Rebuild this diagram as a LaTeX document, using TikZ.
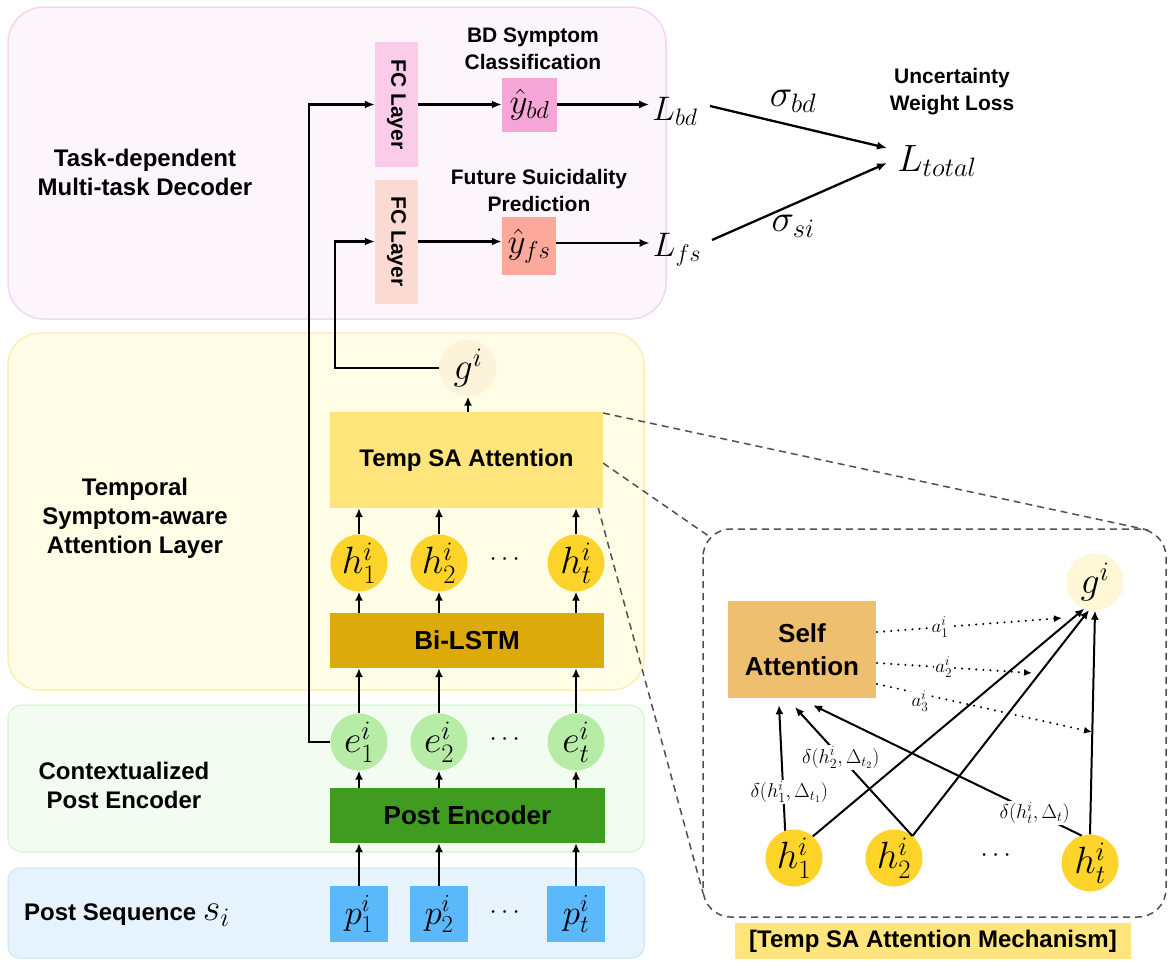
\RequirePackage{fix-cm}
\documentclass[tikz,border=0pt]{standalone}
\usepackage{amsmath}
\usepackage[no-math]{fontspec}
\setmainfont{Liberation Sans}
\usetikzlibrary{arrows.meta}
\definecolor{pinkF}{HTML}{FDF5FC}\definecolor{pinkB}{HTML}{F6D5F1}
\definecolor{yelF}{HTML}{FFFDE6}\definecolor{yelB}{HTML}{FBEFB3}
\definecolor{grnF}{HTML}{F3FCF1}\definecolor{grnB}{HTML}{DDF5D9}
\definecolor{bluF}{HTML}{E6F3FD}\definecolor{bluB}{HTML}{D6E9F9}
\definecolor{fcA}{HTML}{FBCCEA}\definecolor{fcB}{HTML}{FCDAD4}
\definecolor{ybdC}{HTML}{F6A6D6}\definecolor{yfsC}{HTML}{FCA99C}
\definecolor{gC}{HTML}{FDF3D9}\definecolor{gCR}{HTML}{FFF7D6}
\definecolor{tsaC}{HTML}{FFE57C}\definecolor{hC}{HTML}{FFD42A}
\definecolor{lstmC}{HTML}{DCAA0B}\definecolor{eC}{HTML}{B6ECA6}
\definecolor{pencC}{HTML}{3F9C20}\definecolor{pC}{HTML}{5BB9FB}
\definecolor{saC}{HTML}{EEBF6E}\definecolor{dgray}{HTML}{505050}
\begin{document}
\begin{tikzpicture}[x=1pt,y=-1pt,
  lbl/.style={font=\fontsize{24}{29}\selectfont\bfseries, align=center, inner sep=0},
  lbls/.style={font=\fontsize{21}{27}\selectfont\bfseries, align=center, inner sep=0},
  blk/.style={draw=none, inner sep=0, anchor=center},
  circ/.style={circle, draw=none, inner sep=0, minimum size=57, font=\fontsize{38}{38}\selectfont},
  sqr/.style={draw=none, inner sep=0, font=\fontsize{35}{35}\selectfont},
  mth/.style={inner sep=3, font=\fontsize{34}{34}\selectfont},
  arr/.style={line width=2, -{Latex[length=9,width=8]}},
  darr/.style={line width=2.3, -{Latex[length=10,width=8]}},
  dashst/.style={draw=dgray, line width=1.5, dash pattern=on 7 off 5},
  dotarr/.style={line width=2.2, dash pattern=on 0.1 off 7, line cap=round, -{Latex[length=8,width=7]}},
  dlab/.style={fill=white, inner sep=1.5, font=\fontsize{20}{20}\selectfont},
  alab/.style={fill=white, inner sep=1, font=\fontsize{19}{19}\selectfont}
]
\path[fill=white, use as bounding box] (0,0) rectangle (1174,972);

% panels
\draw[draw=pinkB, fill=pinkF, line width=1.5, rounded corners=36] (8,7) rectangle (666,319);
\draw[draw=yelB, fill=yelF, line width=1.5, rounded corners=32] (8,333) rectangle (644,690);
\draw[draw=grnB, fill=grnF, line width=1.5, rounded corners=14] (8,705) rectangle (644,852);
\draw[draw=bluB, fill=bluF, line width=1.5, rounded corners=12] (8,868) rectangle (644,958);

% panel labels
\node[lbl] (lab1) at (145,172) {Task-dependent\\Multi-task Decoder};
\node[lbl] (lab2) at (135,518) {Temporal\\Symptom-aware\\Attention Layer};
\node[lbl] (lab3) at (124,785) {Contextualized\\Post Encoder};
\node[lbl, anchor=west] (lab4) at (24,915) {Post Sequence \fontsize{38}{38}\selectfont$s_i$};

% zoom panel and dashed connectors
\coordinate (zA) at (1148,530);
\coordinate (zB) at (710,537);
\coordinate (zC) at (703,893);
\draw[dashst] (603,413) -- (zA);
\draw[dashst] (603,463) -- (zB);
\draw[dashst] (598,507) -- (zC);
\draw[dashst, rounded corners=28] (703,529) rectangle (1166,917);

% lower stack
\foreach \n/\x in {1/359,2/439,t/576}{
  \node[sqr, fill=pC, minimum width=58, minimum height=56] (p\n) at (\x,914) {$p^i_\n$};
  \node[circ, fill=eC] (e\n) at (\x,742) {$e^i_\n$};
  \node[circ, fill=hC] (h\n) at (\x,563) {$h^i_\n$};
}
\node[font=\fontsize{26}{26}\selectfont] (pd) at (507,913) {$\cdots$};
\node[font=\fontsize{26}{26}\selectfont] (ed) at (507,740) {$\cdots$};
\node[font=\fontsize{26}{26}\selectfont] (hd) at (507,560) {$\cdots$};

\node[blk, fill=pencC, minimum width=275, minimum height=55, font=\fontsize{26}{26}\selectfont\bfseries] (penc) at (467.5,815.5) {Post Encoder};
\node[blk, fill=lstmC, minimum width=274, minimum height=55, font=\fontsize{26}{26}\selectfont\bfseries] (lstm) at (467,640.5) {Bi-LSTM};
\node[blk, fill=tsaC, minimum width=273, minimum height=96, font=\fontsize{24}{24}\selectfont\bfseries] (tsa) at (466.5,460) {Temp SA Attention};
\node[circ, fill=gC] (gL) at (468,368) {$g^i$};

\foreach \n in {1,2,t}{
  \draw[arr] (p\n) -- (p\n |- penc.south);
  \draw[arr] (p\n |- penc.north) -- (e\n);
  \draw[arr] (e\n) -- (e\n |- lstm.south);
  \draw[arr] (h\n |- lstm.north) -- (h\n);
  \draw[arr] (h\n) -- (h\n |- tsa.south);
}
\draw[arr] (gL |- tsa.north) -- (gL);

% decoder
\node[blk, fill=fcA, minimum width=125, minimum height=43, rotate=-90, font=\fontsize{21}{21}\selectfont\bfseries] (fc1) at (396.5,104.5) {FC Layer};
\node[blk, fill=fcB, minimum width=124, minimum height=43, rotate=-90, font=\fontsize{21}{21}\selectfont\bfseries] (fc2) at (396.5,241.5) {FC Layer};
\node[sqr, fill=ybdC, minimum width=55, minimum height=54] (ybd) at (529.5,104.5) {$\hat{y}_{bd}$};
\node[sqr, fill=yfsC, minimum width=54, minimum height=58] (yfs) at (529,246) {$\hat{y}_{fs}$};
\node[lbls] (t1) at (533,49) {BD Symptom\\Classification};
\node[lbls] (t2) at (539,190) {Future Suicidality\\Prediction};
\node[lbls] (t3) at (952,92) {Uncertainty\\Weight Loss};
\node[mth] (Lbd) at (675,111) {$L_{bd}$};
\node[mth] (Lfs) at (677,250) {$L_{fs}$};
\node[mth, font=\fontsize{38}{38}\selectfont] (Ltot) at (937,161) {$L_{total}$};
\node[mth, font=\fontsize{38}{38}\selectfont] (sbd) at (793,101) {$\sigma_{bd}$};
\node[mth, font=\fontsize{38}{38}\selectfont] (ssi) at (793,226) {$\sigma_{si}$};

\coordinate (c1) at (309,104.5);
\coordinate (c2) at (335,241.5);
\draw[darr] (e1.west) -| (c1) -- (fc1);
\draw[darr] (gL.west) -| (c2) -- (fc2);
\draw[darr] (fc1) -- (fc1 -| ybd.west);
\draw[darr] (fc2) -- (fc2 -| yfs.west);
\draw[darr] (ybd) -- (ybd -| Lbd.west);
\draw[darr] (yfs.east |- 0,243) -- (Lfs.west |- 0,243);
\coordinate (l1) at (710,106);
\coordinate (l2) at (712,240);
\coordinate (m1) at (887,148);
\coordinate (m2) at (887,163);
\draw[darr] (l1) -- (m1);
\draw[darr] (l2) -- (m2);

% zoomed mechanism
\node[blk, fill=saC, minimum width=148, minimum height=97, align=center, font=\fontsize{26}{33}\selectfont\bfseries] (sa) at (802,649.5) {Self\\Attention};
\node[circ, fill=gCR] (gR) at (1095,582) {$g^i$};
\node[circ, fill=hC] (r1) at (794,858) {$h^i_1$};
\node[circ, fill=hC] (r2) at (894,858) {$h^i_2$};
\node[circ, fill=hC] (rt) at (1090,863) {$h^i_t$};
\node[font=\fontsize{26}{26}\selectfont] (rd) at (998,856) {$\cdots$};

\draw[arr] (r1.108) -- ([shift={(-23,7)}]sa.south) node[dlab, pos=0.31, xshift=6] (d1) {$\delta(h^i_1,\Delta_{t_1})$};
\draw[arr] (r2.50) -- ([shift={(-7,9)}]sa.south) node[dlab, pos=0.61] (d2) {$\delta(h^i_2,\Delta_{t_2})$};
\draw[arr] (rt.107) -- ([shift={(11,7)}]sa.south) node[dlab, pos=0.175] (d3) {$\delta(h^i_t,\Delta_t)$};
\draw[arr] (r1.49) -- (gR.248);
\draw[arr] (r2.50) -- (gR.258);
\draw[arr] (rt.north) -- (gR.south);

\coordinate (s1) at (877,632);
\coordinate (s2) at (877,663);
\coordinate (s3) at (877,684);
\coordinate (f1) at (1062,618);
\coordinate (f2) at (1032,673);
\coordinate (f3) at (1092,732);
\draw[dotarr] (s1) -- (f1) node[alab, pos=0.34] (a1) {$a^i_1$};
\draw[dotarr] (s2) -- (f2) node[alab, pos=0.43] (a2) {$a^i_2$};
\draw[dotarr] (s3) -- (f3);
\node[alab] (a3) at (920,701) {$a^i_3$};

\node[blk, fill=tsaC, minimum width=396, minimum height=36, font=\fontsize{24}{24}\selectfont\bfseries] (cap) at (933,941) {[Temp SA Attention Mechanism]};
\end{tikzpicture}
\end{document}
